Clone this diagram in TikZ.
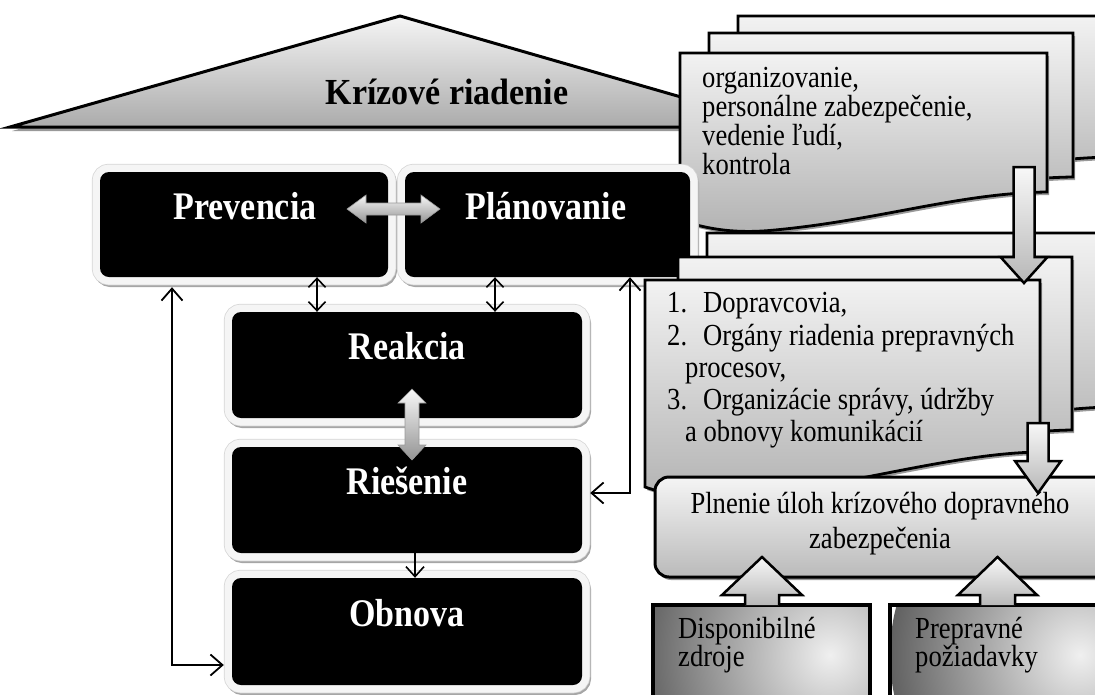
\documentclass[tikz,border=0pt]{standalone}
\usepackage{graphicx}
\usepackage{fontspec}
\setmainfont{Liberation Serif}
\usetikzlibrary{arrows.meta,calc}
\newcommand{\docsheet}[6]{%
  \path[#1] (#2,#5) -- (#2,#3) -- (#4,#3) -- (#4,#5-#6)
    .. controls (#4-87,#5-#6+1) and (#2+200,#5) .. (#2+95,#5+10)
    .. controls (#2+65,#5+13) and (#2+35,#5+12) .. (#2,#5) -- cycle;}
\newcommand{\tallr}[1]{\scalebox{1}[1.15]{#1}}
\newcommand{\tallb}[1]{\scalebox{1}[1.15]{#1}}
\begin{document}
\begin{tikzpicture}[x=1pt,y=-1pt,
  blackbox/.style={rectangle, rounded corners=9pt, fill=black, inner sep=0pt,
    preaction={draw=black!35, line width=15pt, transform canvas={shift={(1.5pt,-2.5pt)}}},
    preaction={draw=black!16, line width=16.5pt},
    preaction={draw=black!4, line width=15pt}},
  boldwhite/.style={font=\fontsize{34}{40}\selectfont\bfseries, text=white, inner sep=0pt, anchor=base},
  boldblack/.style={font=\fontsize{34}{40}\selectfont\bfseries, inner sep=0pt, anchor=base},
  txt/.style={font=\fontsize{26.6}{32}\selectfont, inner sep=0pt, anchor=base west},
  txtc/.style={font=\fontsize{26.6}{32}\selectfont, inner sep=0pt, anchor=base},
  sheet/.style={draw=black, line width=2.8pt, line join=miter, top color=black!5, bottom color=black!30},
  sheetshadow/.style={fill=black!40, transform canvas={shift={(2pt,-3pt)}}},
  blockarrow/.style={draw=black, line width=2.5pt, line join=miter, top color=black!3, bottom color=black!28},
  softarrow/.style={draw=black!40, line width=0.6pt, top color=black!3, bottom color=black!42},
  conn/.style={draw=black, line width=1.6pt},
  smallhead/.style={arrows={Straight Barb[length=9pt,width=17pt,line width=1.6pt]-Straight Barb[length=9pt,width=17pt,line width=1.6pt]}},
  downhead/.style={arrows={-Straight Barb[length=10pt,width=18pt,line width=1.6pt]}},
  bighead/.style={arrows={Straight Barb[length=12pt,width=21pt,line width=1.8pt]-Straight Barb[length=12pt,width=21pt,line width=1.8pt]}}
]
\useasboundingbox (0,0) rectangle (1095,694);
\clip (0,0) rectangle (1095,694);

% ---------- roof ----------
\fill[black!40, transform canvas={shift={(2pt,-4pt)}}] (10,127) -- (400,16) -- (785,127) -- cycle;
\draw[line width=3pt, line join=miter, top color=black!4, bottom color=black!33] (10,127) -- (400,16) -- (785,127) -- cycle;
\node[boldblack] (roof) at (447,104) {\scalebox{1}[1.08]{Krízové riadenie}};

% ---------- document group 1 ----------
\docsheet{sheetshadow}{738}{16}{1112}{183}{26}
\docsheet{sheet}{738}{16}{1112}{183}{26}
\docsheet{sheetshadow}{709}{33}{1073}{203}{26}
\docsheet{sheet}{709}{33}{1073}{203}{26}
\docsheet{sheetshadow}{680}{53}{1047}{220}{28}
\docsheet{sheet}{680}{53}{1047}{220}{28}
\node[txt] (d1a) at (702,87) {\tallr{organizovanie,}};
\node[txt] (d1b) at (702,116) {\tallr{personálne zabezpečenie,}};
\node[txt] (d1c) at (702,145) {\tallr{vedenie ľudí,}};
\node[txt] (d1d) at (702,174) {\tallr{kontrola}};

% ---------- black boxes ----------
\node[blackbox, minimum width=288pt, minimum height=105pt] (prev) at (244,224.5) {};
\node[blackbox, minimum width=285pt, minimum height=105pt] (plan) at (547.5,224.5) {};
\node[blackbox, minimum width=350pt, minimum height=106pt] (reak) at (407,365) {};
\node[blackbox, minimum width=350pt, minimum height=106pt] (ries) at (407,500) {};
\node[blackbox, minimum width=350pt, minimum height=107pt] (obn) at (407,631.5) {};
\node[boldwhite] (prevt) at (245,219) {\tallb{Prevencia}};
\node[boldwhite] (plant) at (546,219) {\tallb{Plánovanie}};
\node[boldwhite] (reakt) at (407,359) {\tallb{Reakcia}};
\node[boldwhite] (riest) at (407,494) {\tallb{Riešenie}};
\node[boldwhite] (obnt) at (407,626) {\tallb{Obnova}};

% soft double arrows
\path[softarrow] (347,209) -- (366,195) -- (366,203) -- (421,203) -- (421,195) -- (440,209)
  -- (421,223) -- (421,215) -- (366,215) -- (366,223) -- cycle;
\path[softarrow] (412,389) -- (426,403) -- (419,403) -- (419,445) -- (426,445) -- (412,460)
  -- (398,445) -- (405,445) -- (405,403) -- (398,403) -- cycle;

% thin connectors
\coordinate (c317) at (317,0);
\coordinate (c495) at (495,0);
\coordinate (c415) at (415,0);
\draw[conn, smallhead] (prev.south -| c317) -- (reak.north -| c317);
\draw[conn, smallhead] (plan.south -| c495) -- (reak.north -| c495);
\draw[conn, downhead] (ries.south -| c415) -- (obn.north -| c415);
\coordinate (rfc) at (630,493);
\coordinate (riesg) at ($(ries.east)+(8pt,0)$);
\draw[conn, bighead] (plan.south -| rfc) -- (rfc) -- (rfc -| riesg);
\coordinate (lfc) at (172,665);
\coordinate (obng) at ($(obn.west)+(-8pt,0)$);
\coordinate (prevg) at ($(prev.south)+(0,-10pt)$);
\draw[conn, bighead] (prevg -| lfc) -- (lfc) -- (lfc -| obng);

% ---------- document group 2 ----------
\docsheet{sheetshadow}{707}{233}{1112}{440}{33}
\docsheet{sheet}{707}{233}{1112}{440}{33}
\docsheet{sheetshadow}{678}{257}{1072}{463}{33}
\docsheet{sheet}{678}{257}{1072}{463}{33}
\docsheet{sheetshadow}{645}{280}{1040}{487}{35}
\docsheet{sheet}{645}{280}{1040}{487}{35}
\node[txt] (n1) at (667,312) {\tallr{1.}};
\node[txt] (l1) at (703,312) {\tallr{Dopravcovia,}};
\node[txt] (n2) at (667,345) {\tallr{2.}};
\node[txt] (l2) at (703,345) {\tallr{Orgány riadenia prepravných}};
\node[txt] (l2b) at (685,377) {\tallr{procesov,}};
\node[txt] (n3) at (667,409) {\tallr{3.}};
\node[txt] (l3) at (703,409) {\tallr{Organizácie správy, údržby}};
\node[txt] (l3b) at (685,441) {\tallr{a obnovy komunikácií}};

% arrow doc1 -> doc2
\path[blockarrow] (1013.5,167) -- (1034.5,167) -- (1034.5,257) -- (1047.5,257) -- (1024,283)
  -- (1000.5,257) -- (1013.5,257) -- cycle;

% ---------- Plnenie box ----------
\fill[black!40, rounded corners=14pt, transform canvas={shift={(2pt,-3pt)}}] (655,477) rectangle (1115,577);
\node[draw=black, line width=3pt, rounded corners=14pt, top color=black!4, bottom color=black!27,
  minimum width=460pt, minimum height=100pt, inner sep=0pt] (pln) at (885,527) {};
\node[txtc] (plt1) at (880,513) {\tallr{Plnenie úloh krízového dopravného}};
\node[txtc] (plt2) at (880,548) {\tallr{zabezpečenia}};

% arrow doc2 -> Plnenie
\path[blockarrow] (1027.5,423) -- (1048.5,423) -- (1048.5,461) -- (1061,461) -- (1038,493)
  -- (1015,461) -- (1027.5,461) -- cycle;

% ---------- bottom boxes ----------
\begin{scope}
  \clip (653,605) rectangle (870,720);
  \shade[inner color=black!6, outer color=black!62] (830,655) circle (190pt);
\end{scope}
\draw[line width=4pt] (653,720) -- (653,605) -- (870,605) -- (870,720);
\begin{scope}
  \clip (890,605) rectangle (1120,720);
  \shade[inner color=black!6, outer color=black!62] (1080,655) circle (190pt);
\end{scope}
\draw[line width=4pt] (890,720) -- (890,605) -- (1120,605) -- (1120,720);
\node[txt] (b1a) at (678,638) {\tallr{Disponibilné}};
\node[txt] (b1b) at (678,666) {\tallr{zdroje}};
\node[txt] (b2a) at (915,638) {\tallr{Prepravné}};
\node[txt] (b2b) at (915,666) {\tallr{požiadavky}};

% up arrows
\path[blockarrow] (745,605) -- (745,595) -- (722,595) -- (762,557) -- (802,595) -- (779,595) -- (779,605);
\path[blockarrow] (980,605) -- (980,595) -- (958,595) -- (997.5,557) -- (1037,595) -- (1015,595) -- (1015,605);
\end{tikzpicture}
\end{document}
